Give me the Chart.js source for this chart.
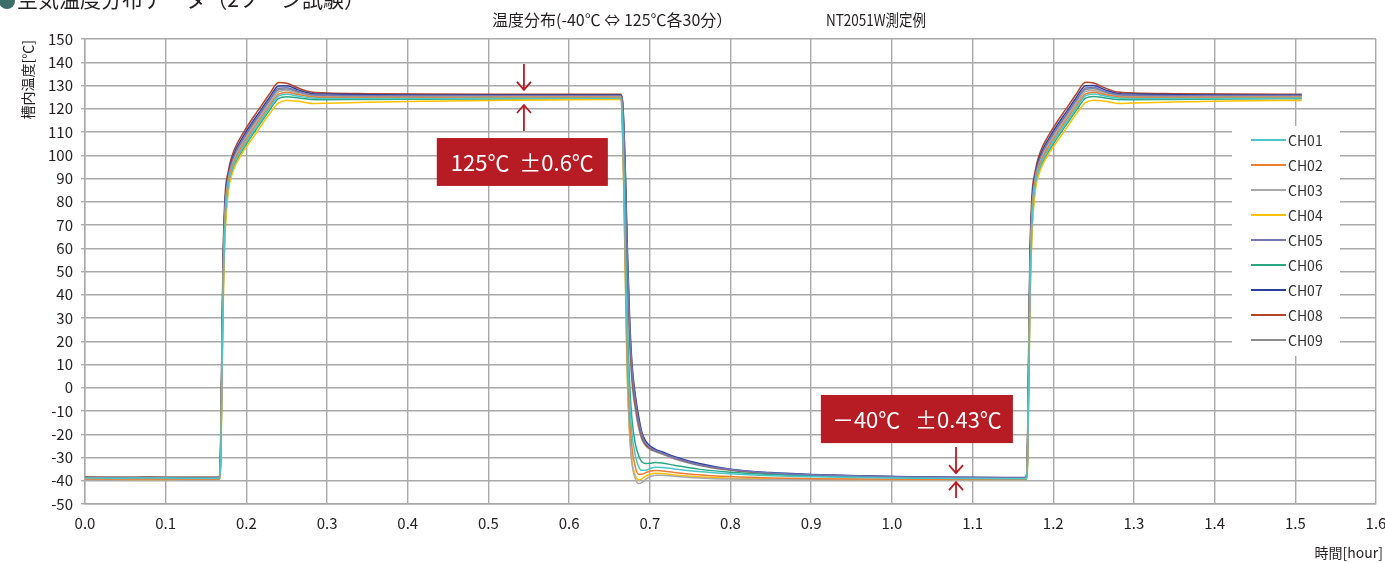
<!DOCTYPE html>
<html lang="ja">
<head>
<meta charset="utf-8">
<title>空気温度分布データ</title>
<script src="https://cdn.jsdelivr.net/npm/chart.js@4.4.1/dist/chart.umd.min.js"></script>
<style>
  html, body { margin: 0; padding: 0; background: #fff; }
  canvas { display: block; }
</style>
</head>
<body>
<canvas id="chart" width="1385" height="563"></canvas>
<script>
// time axis [hour]
const hours = [
  0.000, 0.040, 0.080, 0.120, 0.150,
  0.166, 0.168, 0.1695, 0.171, 0.1735, 0.1775, 0.182, 0.187, 0.195, 0.205, 0.215, 0.228, 0.240, 0.250, 0.265, 0.280, 0.300, 0.350, 0.420, 0.500, 0.580, 0.650,
  0.664, 0.666, 0.668, 0.670, 0.672, 0.675, 0.678, 0.682, 0.686, 0.690, 0.695, 0.700, 0.707, 0.715, 0.730, 0.760, 0.800, 0.850, 0.900, 0.960, 1.020, 1.080, 1.140,
  1.166, 1.168, 1.1695, 1.171, 1.1735, 1.1775, 1.182, 1.187, 1.195, 1.205, 1.215, 1.228, 1.240, 1.250, 1.265, 1.280, 1.300, 1.350, 1.420, 1.508
]

// chamber temperature per channel [℃]
const ch01 = [
  -38.8, -38.9, -38.8, -38.9, -38.9,
  -38.9, -33, 0, 37, 70, 87, 93.5, 98, 103, 108.5, 113.5, 120, 125.5, 126.2, 125.4, 124.6, 124.4, 124.4, 124.4, 124.5, 124.5, 124.5,
  124.5, 116, 90, 55, 22, -5, -20, -29, -33.8, -35.5, -35.5, -34.8, -34.2, -34.3, -34.9, -36, -37, -37.8, -38.3, -38.6, -38.9, -39, -39.1,
  -39.1, -33, 1, 38, 70, 87, 93.5, 98, 103, 108.5, 113.5, 120, 125.6, 126.3, 125.4, 124.6, 124.4, 124.4, 124.5, 124.6
]
const ch02 = [
  -39.2, -39.3, -39.2, -39.3, -39.3,
  -39.3, -32, 2, 40, 72, 88, 94.5, 99, 104, 109.5, 114.5, 121, 126.3, 127, 126, 125.2, 124.9, 124.8, 124.8, 124.9, 125, 125,
  125, 115, 86, 48, 15, -12, -26, -34, -37.2, -37.2, -36.5, -35.9, -35.6, -35.8, -36.4, -37.4, -38.2, -38.8, -39.1, -39.3, -39.4, -39.4, -39.4,
  -39.4, -32, 3, 41, 72, 88, 94.5, 99, 104, 109.5, 114.5, 121, 126.4, 127.1, 126, 125.2, 124.9, 124.8, 124.9, 125
]
const ch03 = [
  -39.4, -39.5, -39.4, -39.5, -39.5,
  -39.5, -31, 4, 42, 74, 89, 95.5, 100, 105, 110.5, 115.5, 122, 127.3, 127.8, 126.5, 125.4, 125.1, 125, 125, 125.1, 125.2, 125.2,
  125.2, 113, 82, 42, 7, -20, -33, -39, -41.2, -40.8, -39.4, -38.3, -37.6, -37.6, -38.1, -38.8, -39.3, -39.5, -39.6, -39.6, -39.6, -39.6, -39.6,
  -39.6, -31, 5, 43, 74, 89, 95.5, 100, 105, 110.5, 115.5, 122, 127.4, 127.9, 126.5, 125.4, 125.1, 125, 125.1, 125.2
]
const ch04 = [
  -39.3, -39.4, -39.5, -39.4, -39.4,
  -39.4, -35, -6, 30, 64, 84, 91.5, 96, 101, 106, 111, 117.5, 122.5, 123.6, 123.2, 122.3, 122.4, 122.8, 123.2, 123.5, 123.8, 124,
  124, 112, 80, 40, 5, -20, -32, -37.5, -39.6, -39.2, -38, -37.2, -36.8, -36.9, -37.5, -38.3, -38.9, -39.2, -39.4, -39.5, -39.5, -39.5, -39.5,
  -39.5, -35, -5, 31, 64, 84, 91.5, 96, 101, 106, 111, 117.5, 122.6, 123.7, 123.2, 122.3, 122.5, 122.9, 123.3, 123.6
]
const ch05 = [
  -38.7, -38.8, -38.7, -38.8, -38.8,
  -38.8, -29, 8, 47, 77, 90.5, 97, 101.5, 106.5, 112, 117, 123.5, 128.8, 129, 127.4, 126.1, 125.8, 125.6, 125.6, 125.6, 125.6, 125.6,
  125.6, 123.5, 110, 87, 58, 27, 8, -5, -14, -20, -24, -25.5, -27, -28, -30, -33, -35.2, -36.7, -37.4, -38, -38.4, -38.6, -38.7,
  -38.7, -29, 9, 48, 77, 90.5, 97, 101.5, 106.5, 112, 117, 123.5, 128.9, 129.1, 127.4, 126.1, 125.8, 125.6, 125.6, 125.7
]
const ch06 = [
  -39, -39.1, -39, -39.1, -39.1,
  -39.1, -34, -3, 34, 67, 85.5, 92.5, 97, 102, 107.5, 112.5, 119, 124.5, 125.2, 124.6, 124, 123.9, 124, 124.1, 124.2, 124.3, 124.3,
  124.3, 118, 95, 62, 30, 2, -14, -24, -29, -31.8, -32.6, -32.5, -32.2, -32.4, -33.3, -35, -36.3, -37.3, -37.9, -38.3, -38.6, -38.8, -38.9,
  -38.9, -34, -2, 35, 67, 85.5, 92.5, 97, 102, 107.5, 112.5, 119, 124.6, 125.3, 124.6, 124, 123.9, 124, 124.2, 124.3
]
const ch07 = [
  -39.2, -39.3, -39.3, -39.2, -39.3,
  -39.3, -28, 10, 50, 79, 91.5, 98, 102.5, 107.5, 113, 118, 124.5, 129.8, 129.9, 128, 126.6, 126.3, 126, 125.9, 125.9, 125.9, 125.9,
  125.9, 124, 112, 90, 62, 30, 10, -3, -12, -19, -23, -25, -26.5, -27.5, -29.5, -32.5, -35, -36.5, -37.3, -37.9, -38.3, -38.5, -38.6,
  -38.6, -28, 11, 51, 79, 91.5, 98, 102.5, 107.5, 113, 118, 124.5, 129.9, 130, 128, 126.6, 126.3, 126, 125.9, 125.9
]
const ch08 = [
  -38.5, -38.6, -38.5, -38.6, -38.6,
  -38.6, -25, 15, 55, 82, 93, 99.5, 104, 109, 114.5, 119.5, 126, 131.3, 131, 128.8, 127.2, 126.8, 126.5, 126.3, 126.2, 126.2, 126.2,
  126.2, 123, 108, 84, 55, 24, 5, -7, -15, -21, -24.5, -26, -27, -28, -30, -33, -35.3, -36.8, -37.5, -38, -38.4, -38.6, -38.7,
  -38.7, -25, 16, 56, 82, 93, 99.5, 104, 109, 114.5, 119.5, 126, 131.4, 131.1, 128.8, 127.2, 126.8, 126.5, 126.3, 126.2
]
const ch09 = [
  -38.3, -38.4, -38.3, -38.4, -38.4,
  -38.4, -30, 6, 45, 76, 90, 96.5, 101, 106, 111.5, 116.5, 123, 128.2, 128.5, 127, 125.8, 125.5, 125.4, 125.4, 125.4, 125.5, 125.5,
  125.5, 122, 106, 80, 50, 20, 2, -9, -17, -22, -25, -26.5, -27.5, -28.5, -30.5, -33.3, -35.5, -37, -37.7, -38.2, -38.5, -38.7, -38.8,
  -38.8, -30, 7, 46, 76, 90, 96.5, 101, 106, 111.5, 116.5, 123, 128.3, 128.6, 127, 125.8, 125.5, 125.4, 125.4, 125.5
]

const channelNames = ['CH01', 'CH02', 'CH03', 'CH04', 'CH05', 'CH06', 'CH07', 'CH08', 'CH09']
const channelValues = [ch01, ch02, ch03, ch04, ch05, ch06, ch07, ch08, ch09]
const channelColors = ['#4bc6c9', '#ee7d31', '#a9a9a9', '#ffc000', '#7479b6', '#2aa882', '#2d3f9c', '#b3452b', '#8d8d8d']

const yTicks = { min: -50, max: 150, step: 10 }
const xTicks = { min: 0, max: 1.6, step: 0.1 }

// callouts, in data units (hour, ℃)
const callouts = [
  { text: '125℃  ±0.6℃', x0: 0.436, x1: 0.648, y0: 107.4, y1: 86.8 },
  { text: '－40℃   ±0.43℃', x0: 0.912, x1: 1.150, y0: -3.1, y1: -23.8 }
]
const arrows = [
  { x: 0.544, downFrom: 139.3, downTo: 128.1, upFrom: 110.4, upTo: 121.6 },
  { x: 1.0795, downFrom: -25.5, downTo: -36.7, upFrom: -47.4, upTo: -40.6 }
]

const FONT = '"Noto Sans CJK JP", "Noto Sans", sans-serif'
const GRID = '#a9a9a9'
const RED = '#b71c24'
const TEXT = '#231f20'

const decorations = {
  id: 'decorations',
  beforeDraw (chart) {
    const ctx = chart.ctx
    ctx.save()
    ctx.fillStyle = '#fff'
    ctx.fillRect(0, 0, chart.width, chart.height)
    ctx.restore()
  },
  afterDraw (chart) {
    const ctx = chart.ctx
    const area = chart.chartArea
    const x = chart.scales.x
    const y = chart.scales.y

    ctx.save()

    // page heading, cut at top edge
    ctx.textBaseline = 'alphabetic'
    ctx.font = '22px ' + FONT
    ctx.fillStyle = '#3c6d68'
    ctx.beginPath()
    ctx.arc(7, 1, 8, 0, Math.PI * 2)
    ctx.fill()
    ctx.fillStyle = TEXT
    ctx.textAlign = 'left'
    ctx.fillText('空気温度分布データ（2ゾーン試験）', 17, 7, 348)

    // chart title
    ctx.font = '16px ' + FONT
    ctx.textBaseline = 'middle'
    ctx.fillText('温度分布(-40℃ ⇔ 125℃各30分）', 492, 20, 262)
    ctx.fillText('NT2051W測定例', 826, 20, 100)

    // axis titles
    ctx.font = '14px ' + FONT
    ctx.textAlign = 'right'
    ctx.fillText('時間[hour]', 1383, 553)
    ctx.save()
    ctx.translate(28, area.top + 1)
    ctx.rotate(-Math.PI / 2)
    ctx.textAlign = 'right'
    ctx.fillText('槽内温度[℃]', 0, 0)
    ctx.restore()

    // legend
    const lx = 1232
    const ly = 126
    ctx.fillStyle = '#fff'
    ctx.fillRect(lx, ly, 108, 230)
    ctx.font = '14px ' + FONT
    ctx.textAlign = 'left'
    chart.data.datasets.forEach((ds, i) => {
      const rowY = ly + 14 + i * 25
      ctx.strokeStyle = ds.borderColor
      ctx.lineWidth = 2
      ctx.beginPath()
      ctx.moveTo(lx + 19, rowY)
      ctx.lineTo(lx + 54, rowY)
      ctx.stroke()
      ctx.fillStyle = '#333'
      ctx.fillText(ds.label, lx + 56, rowY + 1)
    })

    // callout boxes
    callouts.forEach(c => {
      const left = x.getPixelForValue(c.x0)
      const right = x.getPixelForValue(c.x1)
      const top = y.getPixelForValue(c.y0)
      const bottom = y.getPixelForValue(c.y1)
      ctx.fillStyle = RED
      ctx.fillRect(left, top, right - left, bottom - top)
      ctx.fillStyle = '#fff'
      ctx.font = '22px ' + FONT
      ctx.textAlign = 'center'
      ctx.textBaseline = 'middle'
      ctx.fillText(c.text, (left + right) / 2, (top + bottom) / 2 + 1)
    })

    // arrows
    const arrow = (px, from, to) => {
      const dir = Math.sign(to - from)
      ctx.beginPath()
      ctx.moveTo(px, from)
      ctx.lineTo(px, to)
      ctx.moveTo(px - 7, to - dir * 8)
      ctx.lineTo(px, to)
      ctx.lineTo(px + 7, to - dir * 8)
      ctx.stroke()
    }
    ctx.strokeStyle = RED
    ctx.lineWidth = 1.8
    arrows.forEach(a => {
      const px = x.getPixelForValue(a.x)
      arrow(px, y.getPixelForValue(a.downFrom), y.getPixelForValue(a.downTo))
      arrow(px, y.getPixelForValue(a.upFrom), y.getPixelForValue(a.upTo))
    })

    ctx.restore()
  }
}

const datasets = channelNames.map((name, i) => ({
  label: name,
  data: hours.map((h, j) => ({ x: h, y: channelValues[i][j] })),
  borderColor: channelColors[i],
  backgroundColor: channelColors[i],
  borderWidth: 1.5,
  pointRadius: 0,
  cubicInterpolationMode: 'monotone',
  fill: false
}))

new Chart(document.getElementById('chart'), {
  type: 'line',
  data: { datasets: datasets },
  options: {
    responsive: false,
    animation: false,
    devicePixelRatio: 1,
    layout: { padding: { top: 39, right: 9, bottom: 0, left: 0 } },
    plugins: {
      legend: { display: false },
      title: { display: false },
      tooltip: { enabled: false }
    },
    scales: {
      x: {
        type: 'linear',
        min: xTicks.min,
        max: xTicks.max,
        ticks: {
          stepSize: xTicks.step,
          autoSkip: false,
          maxRotation: 0,
          padding: 10,
          color: TEXT,
          font: { family: FONT, size: 15 },
          callback: v => v.toFixed(1)
        },
        grid: { color: GRID, lineWidth: 1.4, drawTicks: false },
        border: { color: GRID, width: 1.4 },
        afterFit (scale) {
          scale.height = 59
          scale.paddingLeft = 0
          scale.paddingRight = 0
        }
      },
      y: {
        min: yTicks.min,
        max: yTicks.max,
        ticks: {
          stepSize: yTicks.step,
          padding: 8,
          color: TEXT,
          font: { family: FONT, size: 15 }
        },
        grid: { color: GRID, lineWidth: 1.4, tickLength: 4 },
        border: { color: GRID, width: 1.4 },
        afterFit (scale) {
          scale.width = 85
          scale.paddingTop = 0
          scale.paddingBottom = 0
        }
      }
    }
  },
  plugins: [decorations]
})
</script>
</body>
</html>
